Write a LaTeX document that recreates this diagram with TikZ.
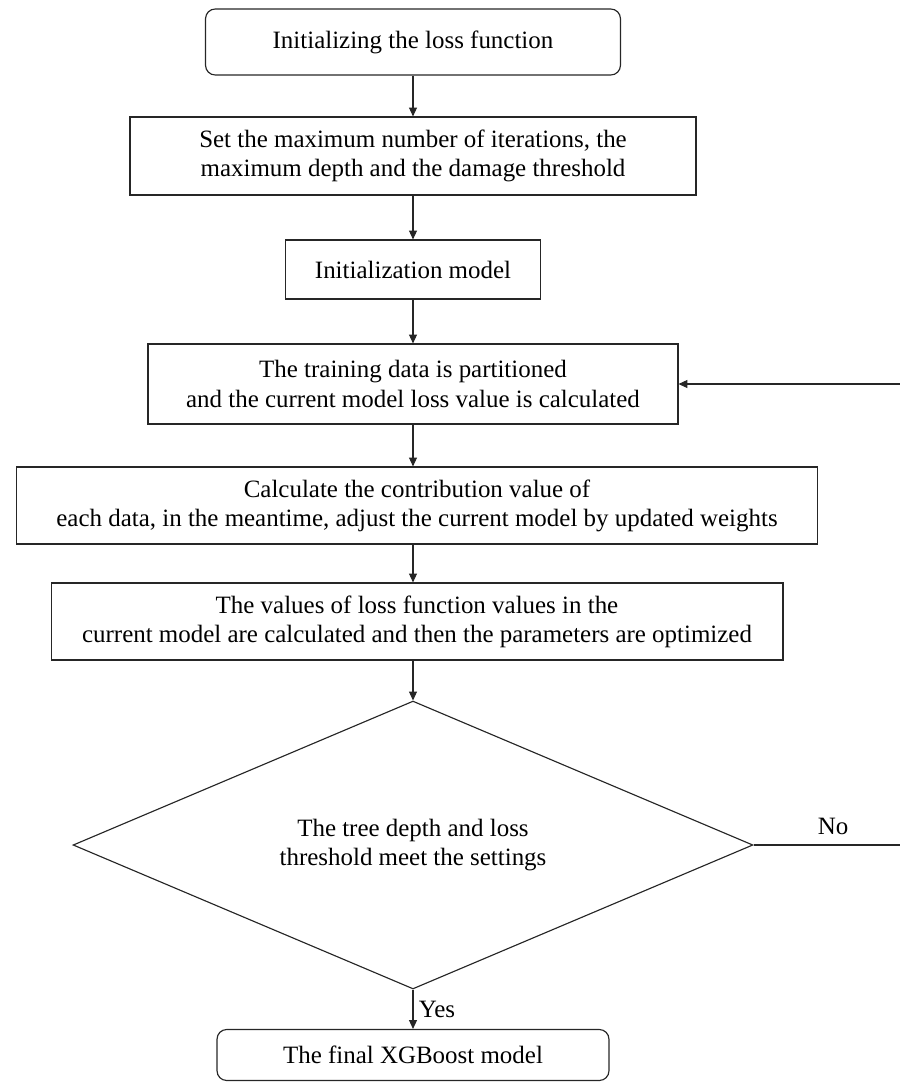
\documentclass[tikz,border=0pt]{standalone}
\usepackage{fontspec}
\setmainfont{Liberation Serif}
\usetikzlibrary{arrows.meta,shapes.geometric}
\begin{document}
\begin{tikzpicture}[x=0.02cm,y=-0.02cm,
  every node/.style={font=\fontsize{14.2pt}{16.6pt}\selectfont, text=black},
  boxbase/.style={draw=black!85, line width=0.65pt, inner sep=0pt, align=center, anchor=center},
  proc/.style={boxbase, rectangle},
  term/.style={boxbase, rectangle, rounded corners=5.5pt},
  dec/.style={draw=black!85, line width=0.65pt, diamond, aspect=2.36, inner sep=0pt,
     minimum width=13.6cm, minimum height=5.76cm, align=center},
  conn/.style={draw=black!85, line width=0.6pt},
  arr/.style={conn, -{Triangle[length=5pt,width=4.5pt]}},
  lbl/.style={inner sep=0pt}]
\useasboundingbox (0,0) rectangle (900,1083);
\coordinate (ax) at (413,0);
\node[term, minimum width=8.3cm, minimum height=1.32cm] (b1) at (413,42) {Initializing the loss function};
\node[proc, minimum width=11.32cm, minimum height=1.56cm] (b2) at (413,156) {Set the maximum number of iterations, the\\maximum depth and the damage threshold};
\node[proc, minimum width=5.1cm, minimum height=1.18cm] (b3) at (413,269.5) {Initialization model};
\node[proc, minimum width=10.6cm, minimum height=1.6cm] (b4) at (413,384) {The training data is partitioned\\and the current model loss value is calculated};
\node[proc, minimum width=16.04cm, minimum height=1.54cm] (b5) at (417,505.5) {Calculate the contribution value of\\each data, in the meantime, adjust the current model by updated weights};
\node[proc, minimum width=14.64cm, minimum height=1.54cm] (b6) at (417,621.5) {The values of loss function values in the\\current model are calculated and then the parameters are optimized};
\node[dec] (d) at (413,845) {The tree depth and loss\\threshold meet the settings};
\node[term, minimum width=7.84cm, minimum height=1.02cm] (b7) at (413,1055) {The final XGBoost model};
\draw[arr] (b1.south -| ax) -- (b2.north -| ax);
\draw[arr] (b2.south -| ax) -- (b3.north -| ax);
\draw[arr] (b3.south -| ax) -- (b4.north -| ax);
\draw[arr] (b4.south -| ax) -- (b5.north -| ax);
\draw[arr] (b5.south -| ax) -- (b6.north -| ax);
\draw[arr] (b6.south -| ax) -- (d.north);
\draw[arr] (d.south) -- (b7.north -| ax) node[lbl, midway, right=3pt] (yes) {Yes};
\coordinate (r1) at (904,845);
\coordinate (r2) at (904,384);
\draw[conn] (d.east) -- (r1) -- (r2);
\draw[arr] (r2) -- (b4.east);
\node[lbl] (no) at (833,826) {No};
\end{tikzpicture}
\end{document}
